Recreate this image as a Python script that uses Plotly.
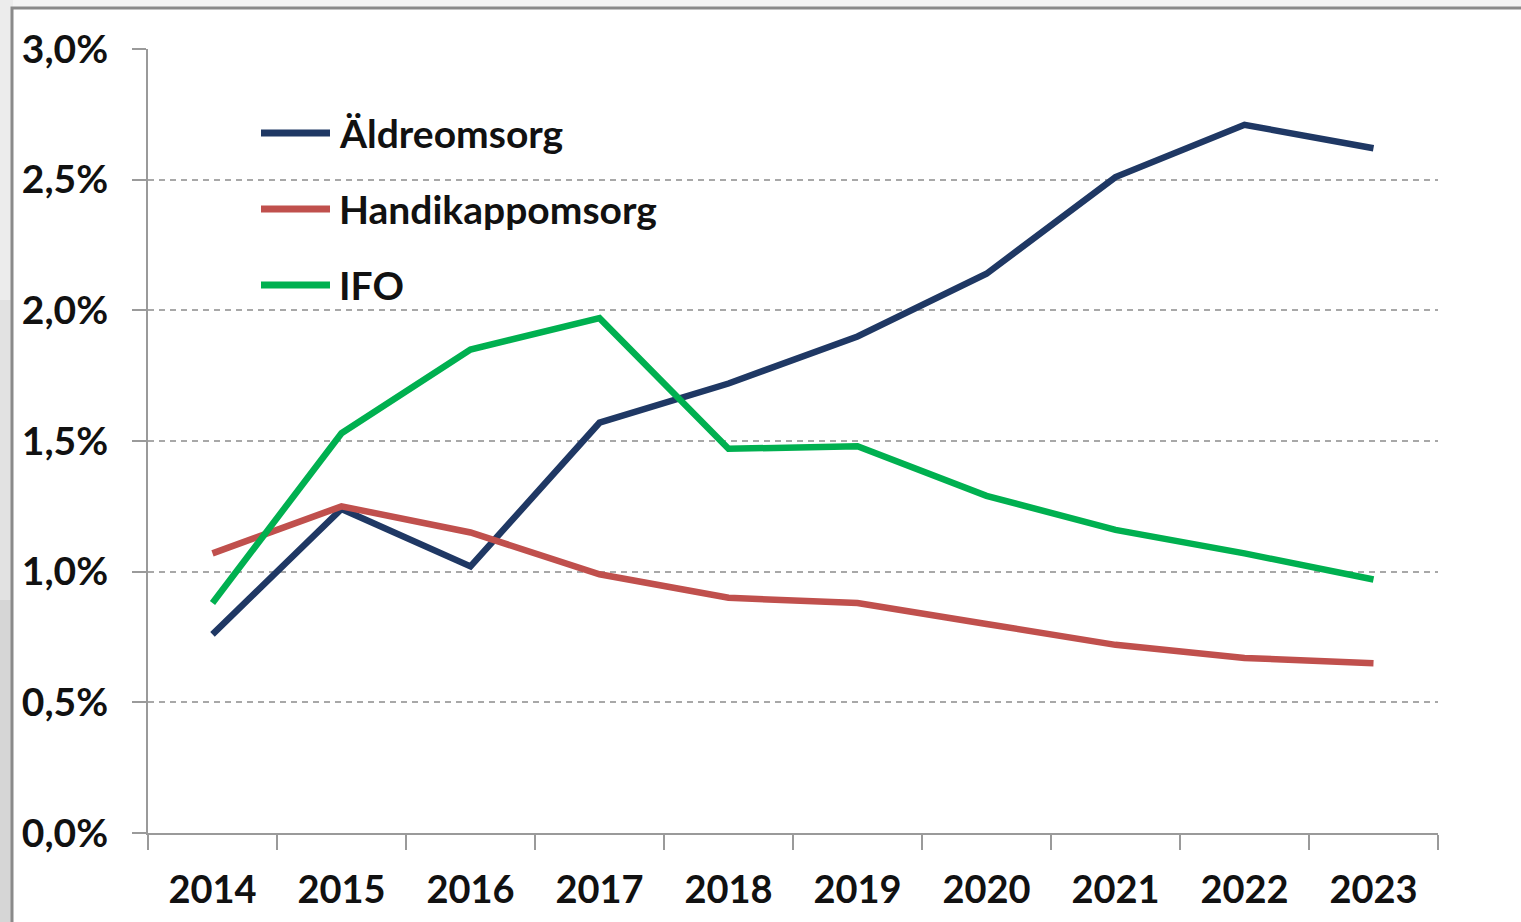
import plotly.graph_objects as go

years = ["2014", "2015", "2016", "2017", "2018", "2019", "2020", "2021", "2022", "2023"]
series_names = ["Äldreomsorg", "Handikappomsorg", "IFO"]
aldreomsorg = [0.76, 1.24, 1.02, 1.57, 1.72, 1.90, 2.14, 2.51, 2.71, 2.62]
handikappomsorg = [1.07, 1.25, 1.15, 0.99, 0.90, 0.88, 0.80, 0.72, 0.67, 0.65]
ifo = [0.88, 1.53, 1.85, 1.97, 1.47, 1.48, 1.29, 1.16, 1.07, 0.97]
colors = ["#1f3864", "#c0504d", "#00b050"]
y_ticks = [0.0, 0.5, 1.0, 1.5, 2.0, 2.5, 3.0]
y_tick_labels = ["0,0%", "0,5%", "1,0%", "1,5%", "2,0%", "2,5%", "3,0%"]

W, H = 1521, 922
L, R, T, B = 148, 1438, 49, 833


def px(x):
    return (x - L) / (R - L)


def py(y):
    return (B - y) / (B - T)


FONT = "Lato"

fig = go.Figure()
for name, vals, col in zip(series_names, [aldreomsorg, handikappomsorg, ifo], colors):
    fig.add_trace(go.Scatter(x=years, y=vals, name=name, mode="lines",
                             line=dict(color=col, width=6.5), showlegend=False))

shapes = []
# background frame
shapes.append(dict(type="rect", xref="paper", yref="paper", x0=px(-5), x1=px(13), y0=py(930), y1=py(-5),
                   fillcolor="#e2e2e2", line=dict(width=0), layer="below"))
shapes.append(dict(type="rect", xref="paper", yref="paper", x0=px(-5), x1=px(13), y0=py(930), y1=py(600),
                   fillcolor="#d6d6d6", line=dict(width=0), layer="below"))
shapes.append(dict(type="rect", xref="paper", yref="paper", x0=px(-5), x1=px(13), y0=py(300), y1=py(-5),
                   fillcolor="#ececec", line=dict(width=0), layer="below"))
shapes.append(dict(type="rect", xref="paper", yref="paper", x0=px(12), x1=px(1540), y0=py(940), y1=py(8),
                   fillcolor="white", line=dict(color="#8a8a8a", width=3), layer="below"))

# legend (drawn manually for the long line samples)
leg_y = [133, 209, 285]
annotations = []
for name, col, yy in zip(series_names, colors, leg_y):
    shapes.append(dict(type="line", xref="paper", yref="paper", x0=px(261), x1=px(330), y0=py(yy), y1=py(yy),
                       line=dict(color=col, width=7), layer="above"))
    annotations.append(dict(xref="paper", yref="paper", x=px(337), y=py(yy), text=name, showarrow=False,
                            xanchor="left", yanchor="middle",
                            font=dict(family=FONT, size=39, color="#111111", weight="bold")))

fig.update_layout(
    width=W, height=H,
    margin=dict(l=L, r=W - R, t=T, b=H - B, pad=0),
    paper_bgcolor="#f4f4f4",
    plot_bgcolor="rgba(0,0,0,0)",
    showlegend=False,
    shapes=shapes,
    annotations=annotations,
    font=dict(family=FONT, size=38, color="#111111", weight="bold"),
)
fig.update_xaxes(type="category", tickson="boundaries", ticks="outside", ticklen=15, tickwidth=2,
                 tickcolor="#9a9a9a", showline=True, linecolor="#9a9a9a", linewidth=2,
                 showgrid=False, tickfont=dict(family=FONT, size=38, color="#111111", weight="bold"),
                 range=[-0.5, 9.5], zeroline=False, ticklabelstandoff=22)
fig.update_yaxes(range=[0, 3.0], tickvals=y_ticks, ticktext=y_tick_labels, ticks="outside", ticklen=14,
                 tickwidth=2, tickcolor="#9a9a9a", showline=True, linecolor="#9a9a9a", linewidth=2,
                 showgrid=True, gridcolor="#a8a8a8", gridwidth=1.5, griddash="6px,5px",
                 zeroline=False, tickfont=dict(family=FONT, size=39, color="#111111", weight="bold"),
                 ticklabelstandoff=16)

fig.write_html("out.html", config={"displayModeBar": False},
               post_script="document.body.style.margin='0';document.body.style.overflow='hidden';")
